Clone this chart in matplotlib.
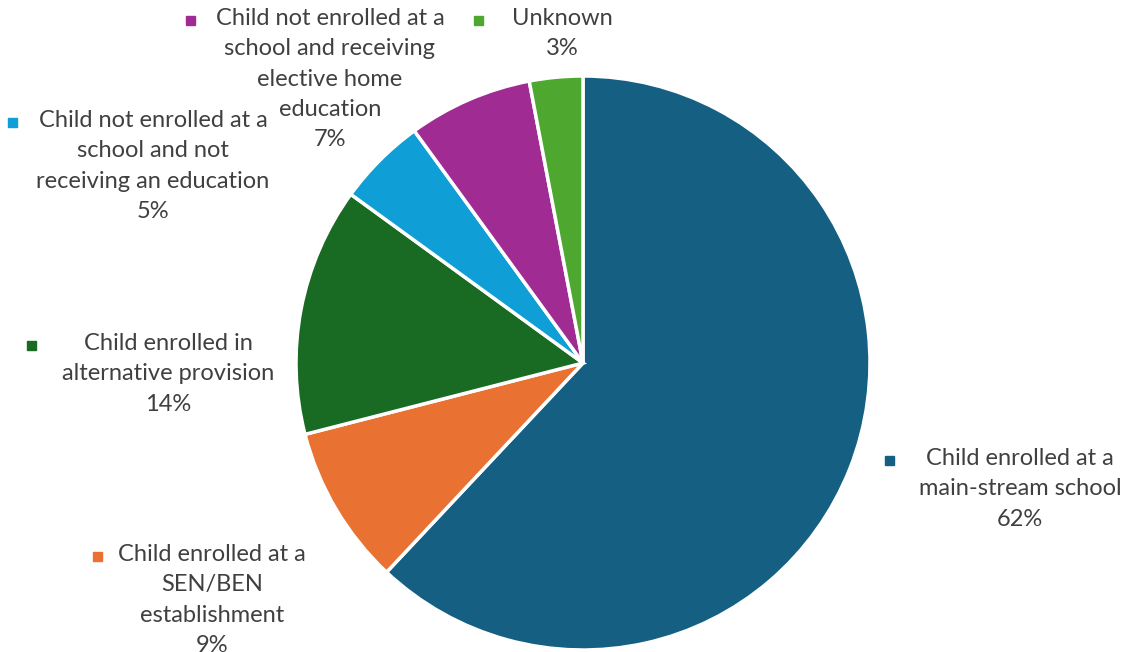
import matplotlib.pyplot as plt
from matplotlib.patches import Rectangle

W, H = 1128, 652

categories = [
    "Child enrolled at a\nmain-stream school",
    "Child enrolled at a\nSEN/BEN\nestablishment",
    "Child enrolled in\nalternative provision",
    "Child not enrolled at a\nschool and not\nreceiving an education",
    "Child not enrolled at a\nschool and receiving\nelective home\neducation",
    "Unknown",
]
shares = [62, 9, 14, 5, 7, 3]
colors = ["#156082", "#E97132", "#196B24", "#0F9ED5", "#A02B93", "#4EA72E"]

# label block centre x, first-line centre y, and marker position, in pixels from top-left
label_pos = [(1020, 460), (212, 556), (168, 345), (153, 122), (330, 20), (562, 20)]
marker_pos = [(889, 460), (97, 556), (31, 345), (12, 122), (190, 20), (478, 20)]

plt.rcParams["font.family"] = ["Lato", "DejaVu Sans"]

fig = plt.figure(figsize=(W / 100, H / 100), dpi=100)
ax = fig.add_axes([0, 0, 1, 1])

ax.pie(
    shares,
    colors=colors,
    startangle=90,
    counterclock=False,
    center=(583, H - 363),
    radius=287,
    wedgeprops=dict(edgecolor="white", linewidth=2.5),
    frame=True,
)
ax.set_xlim(0, W)
ax.set_ylim(0, H)
ax.set_aspect("equal")
ax.axis("off")

for name, val, col, (lx, ly), (mx, my) in zip(categories, shares, colors, label_pos, marker_pos):
    ax.text(lx, H - ly + 12, f"{name}\n{val}%", ha="center", va="top",
            fontsize=17, color="#404040", linespacing=1.55, clip_on=False)
    ax.add_patch(Rectangle((mx - 4.5, H - my - 4.5), 9, 9, color=col, clip_on=False))

fig.savefig("out.png", dpi=100)
